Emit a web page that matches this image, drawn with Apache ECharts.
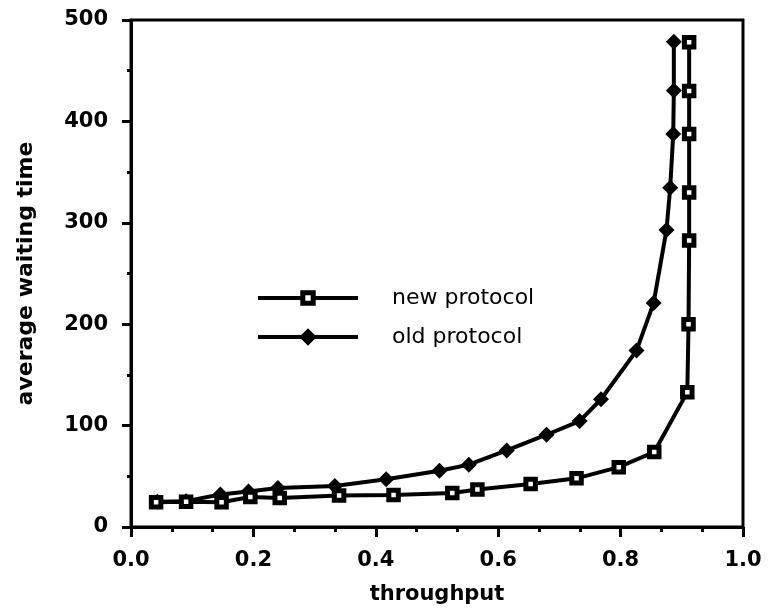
<!DOCTYPE html>
<html>
<head>
<meta charset="utf-8">
<script src="https://cdn.jsdelivr.net/npm/echarts@6/dist/echarts.min.js"></script>
<style>html,body{margin:0;padding:0;background:#fff}#c{width:770px;height:610px}</style>
</head>
<body>
<div id="c"></div>
<script>
var seriesNames = ['new protocol', 'old protocol'];
var newX = [0.041, 0.090, 0.148, 0.195, 0.243, 0.340, 0.429, 0.525, 0.566, 0.653, 0.728, 0.797, 0.855, 0.909, 0.911, 0.912, 0.912, 0.912, 0.912, 0.912];
var newY = [24.5, 25, 24.5, 29.5, 28.5, 31, 31.5, 33.5, 37, 42.5, 48, 59, 74, 133, 200, 282.5, 330, 387.5, 430, 478];
var oldX = [0.043, 0.090, 0.146, 0.192, 0.240, 0.333, 0.417, 0.504, 0.552, 0.614, 0.679, 0.733, 0.768, 0.826, 0.854, 0.875, 0.881, 0.886, 0.887, 0.887];
var oldY = [25, 25.5, 32, 35, 38.5, 40.5, 47, 55.5, 61.5, 75.5, 91, 104.5, 126, 174, 221, 293, 334.5, 387.5, 430.5, 478.5];
var xTicks = {min: 0, max: 1, interval: 0.2};
var yTicks = {min: 0, max: 500, interval: 100};

function zip(xs, ys) { return xs.map(function (x, i) { return [x, ys[i]]; }); }

var chart = echarts.init(document.getElementById('c'), null, {renderer: 'canvas'});
var axisFont = {fontFamily: 'DejaVu Sans', fontWeight: 'bold', fontSize: 21, color: '#000'};
chart.setOption({
  animation: false,
  backgroundColor: '#fff',
  grid: {left: 131, right: 27, top: 20, bottom: 79, show: true, borderColor: '#000', borderWidth: 3, backgroundColor: 'transparent'},
  legend: {
    orient: 'vertical', left: 256, top: 287, padding: 0, itemWidth: 100, itemHeight: 13, itemGap: 17,
    data: [
      {name: seriesNames[0], itemStyle: {borderWidth: 5, borderColor: '#000', color: '#fff'}, lineStyle: {width: 4, color: '#000'}},
      {name: seriesNames[1], itemStyle: {borderWidth: 5, borderColor: '#000', color: '#000'}, lineStyle: {width: 4, color: '#000'}}
    ],
    textStyle: {fontFamily: 'DejaVu Sans', fontSize: 22, color: '#000', padding: [0, 0, 0, 29]}
  },
  xAxis: {
    type: 'value', min: xTicks.min, max: xTicks.max, interval: xTicks.interval,
    name: 'throughput', nameLocation: 'middle', nameGap: 57,
    nameTextStyle: {fontFamily: 'DejaVu Sans', fontWeight: 'bold', fontSize: 21, color: '#000'},
    axisLine: {show: true, onZero: false, lineStyle: {color: '#000', width: 3}},
    axisTick: {show: true, inside: false, length: 10, lineStyle: {color: '#000', width: 3}},
    minorTick: {show: true, splitNumber: 3, length: 5, lineStyle: {color: '#000', width: 3}},
    splitLine: {show: false},
    axisLabel: Object.assign({margin: 23, formatter: function (v) { return v.toFixed(1); }}, axisFont)
  },
  yAxis: {
    type: 'value', min: yTicks.min, max: yTicks.max, interval: yTicks.interval,
    name: 'average waiting time', nameLocation: 'middle', nameGap: 94,
    nameTextStyle: {fontFamily: 'DejaVu Sans', fontWeight: 'bold', fontSize: 22, color: '#000'},
    axisLine: {show: true, onZero: false, lineStyle: {color: '#000', width: 3}},
    axisTick: {show: true, inside: false, length: 9, lineStyle: {color: '#000', width: 3}},
    minorTick: {show: true, splitNumber: 2, length: 4, lineStyle: {color: '#000', width: 3}},
    splitLine: {show: false},
    axisLabel: Object.assign({margin: 23}, axisFont)
  },
  series: [
    {
      name: seriesNames[0], type: 'line', data: zip(newX, newY), z: 3,
      symbol: 'rect', symbolSize: 9.5, showAllSymbol: true,
      lineStyle: {color: '#000', width: 4},
      itemStyle: {color: '#fff', borderColor: '#000', borderWidth: 5}
    },
    {
      name: seriesNames[1], type: 'line', data: zip(oldX, oldY), z: 2,
      symbol: 'diamond', symbolSize: [16, 16], showAllSymbol: true,
      lineStyle: {color: '#000', width: 4},
      itemStyle: {color: '#000', borderColor: '#000', borderWidth: 0}
    }
  ]
});
</script>
</body>
</html>
